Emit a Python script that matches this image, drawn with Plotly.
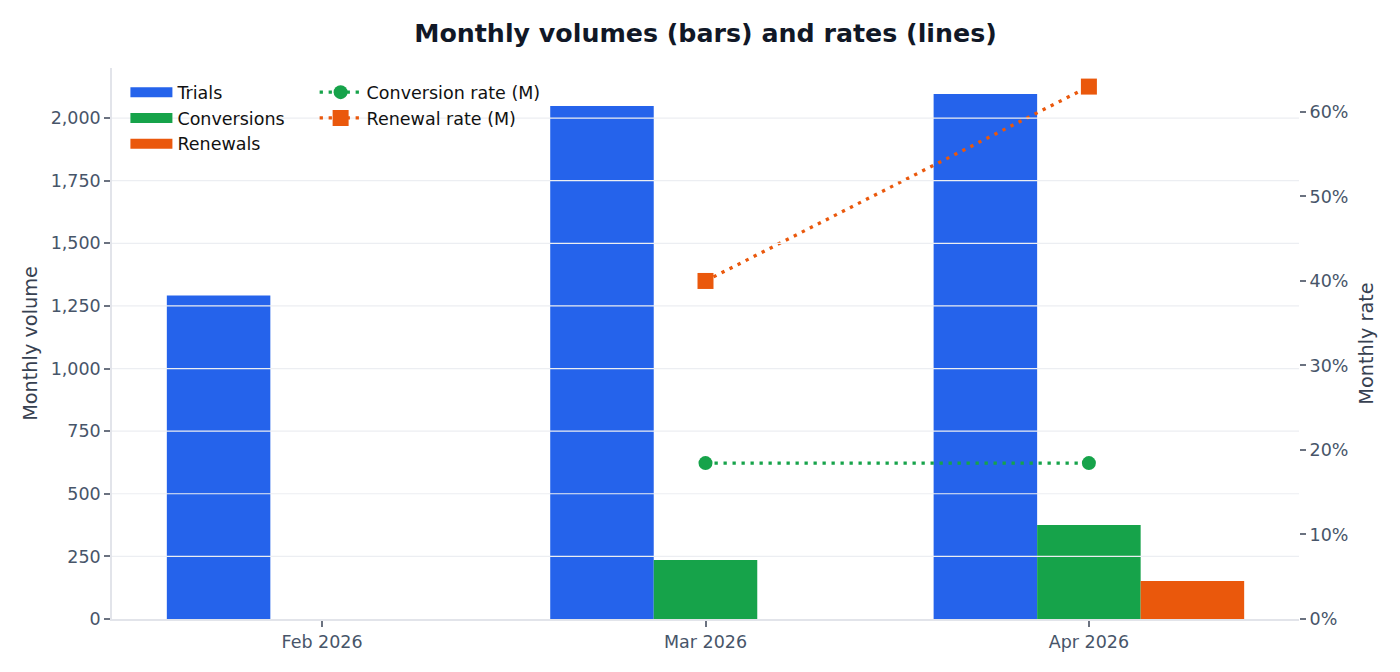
import plotly.graph_objects as go

# ---- data ----
months = ["Feb 2026", "Mar 2026", "Apr 2026"]
trials = [1292, 2048, 2096]
conversions = [None, 236, 375]
renewals = [None, None, 152]

rate_months = ["Mar 2026", "Apr 2026"]
conversion_rate = [0.1845, 0.1845]
renewal_rate = [0.40, 0.63]

volume_ticks = [0, 250, 500, 750, 1000, 1250, 1500, 1750, 2000]
rate_ticks = [0, 0.1, 0.2, 0.3, 0.4, 0.5, 0.6]

BLUE = "#2563eb"
GREEN = "#16a34a"
ORANGE = "#ea580c"
FONT = "DejaVu Sans"
TICK_COLOR = "#475569"
AXIS_TITLE_COLOR = "#374151"
GRID_COLOR = "#eceef2"
LINE_COLOR = "#e2e4ea"

fig = go.Figure()

bar_series = [("Trials", trials, BLUE), ("Conversions", conversions, GREEN), ("Renewals", renewals, ORANGE)]
for name, vals, col in bar_series:
    fig.add_trace(go.Bar(x=months, y=vals, name=name, marker=dict(color=col, line=dict(width=0)),
                         showlegend=False, legendgroup=name, yaxis="y"))
# legend proxies (wide rectangular swatches)
for name, vals, col in bar_series:
    fig.add_trace(go.Scatter(x=[None], y=[None], mode="lines", name=name, legendgroup=name,
                             line=dict(color=col, width=12), legend="legend", hoverinfo="skip"))

fig.add_trace(go.Scatter(x=rate_months, y=conversion_rate, name="Conversion rate (M)", yaxis="y2",
                         mode="lines+markers", legend="legend2",
                         line=dict(color=GREEN, width=3.3, dash="3.3px,5.7px"),
                         marker=dict(symbol="circle", size=14, color=GREEN)))
fig.add_trace(go.Scatter(x=rate_months, y=renewal_rate, name="Renewal rate (M)", yaxis="y2",
                         mode="lines+markers", legend="legend2",
                         line=dict(color=ORANGE, width=3.3, dash="3.3px,5.7px"),
                         marker=dict(symbol="square", size=16, color=ORANGE)))

# gridlines drawn above the bars (at the volume tick values)
for v in volume_ticks[1:]:
    fig.add_shape(type="line", xref="paper", x0=0, x1=1, yref="y", y0=v, y1=v,
                  line=dict(color=GRID_COLOR, width=1.2), layer="above")

fig.update_layout(
    autosize=True,
    paper_bgcolor="white", plot_bgcolor="white",
    font=dict(family=FONT, size=17.5, color=TICK_COLOR),
    margin=dict(l=104, r=93, t=60, b=45, autoexpand=False),
    title=dict(text="<b>Monthly volumes (bars) and rates (lines)</b>", x=0.5, xref="paper", xanchor="center",
               y=0.962, yref="container", yanchor="middle",
               font=dict(family=FONT, size=25.3, color="#111827")),
    barmode="group", bargap=0.19, bargroupgap=0,
    xaxis=dict(type="category", range=[-0.548, 2.548], showgrid=False,
               showline=True, linecolor=LINE_COLOR, linewidth=2,
               ticks="outside", ticklen=6, tickwidth=1.5, tickcolor="#6b7280",
               tickfont=dict(family=FONT, size=17.5, color=TICK_COLOR), zeroline=False),
    yaxis=dict(range=[0, 2200], tickvals=volume_ticks, tickformat=",", showgrid=False, zeroline=False,
               showline=True, linecolor=LINE_COLOR, linewidth=1.5,
               ticks="outside", ticklen=6, tickwidth=1.5, tickcolor="#6b7280",
               tickfont=dict(family=FONT, size=17.5, color=TICK_COLOR),
               title=dict(text="Monthly volume", font=dict(family=FONT, size=19.3, color=AXIS_TITLE_COLOR),
                          standoff=8)),
    yaxis2=dict(overlaying="y", side="right", range=[0, 0.652], tickvals=rate_ticks, tickformat=".0%",
                showgrid=False, zeroline=False, showline=False,
                ticks="outside", ticklen=6, tickwidth=1.5, tickcolor="#6b7280",
                tickfont=dict(family=FONT, size=17.5, color=TICK_COLOR),
                title=dict(text="Monthly rate", font=dict(family=FONT, size=19.3, color=AXIS_TITLE_COLOR),
                           standoff=12)),
    legend=dict(x=0.0113, y=0.9886, xanchor="left", yanchor="top", bgcolor="rgba(255,255,255,0)",
                font=dict(family=FONT, size=17.5, color="#111111"), tracegroupgap=0, itemwidth=42),
    legend2=dict(x=0.1707, y=0.9886, xanchor="left", yanchor="top", bgcolor="rgba(255,255,255,0)",
                 font=dict(family=FONT, size=17.5, color="#111111"), tracegroupgap=0, itemwidth=42),
    showlegend=True,
)

fig.write_html("out.html")
